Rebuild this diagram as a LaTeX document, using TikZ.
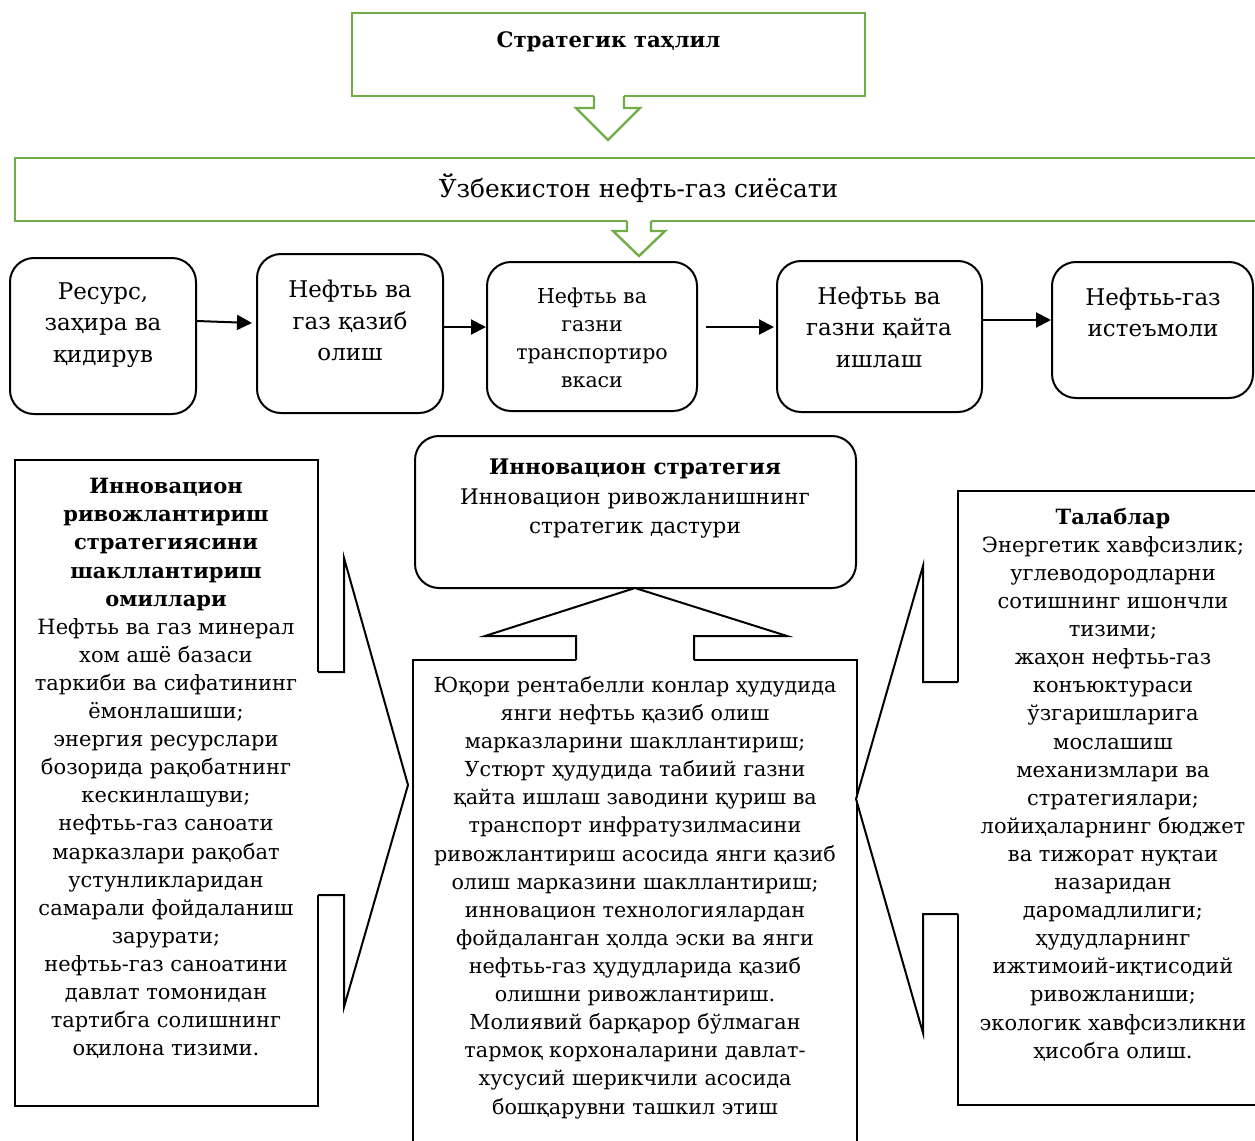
\documentclass[tikz,border=0pt]{standalone}
\usepackage{fontspec}
\setmainfont{DejaVu Serif}
\usetikzlibrary{arrows.meta,calc}
\definecolor{gr}{RGB}{112,173,71}
\begin{document}
\begin{tikzpicture}[x=1pt,y=-1pt,line join=miter,
 gbox/.style={draw=gr, line width=2.4pt, inner sep=0pt},
 bbox/.style={draw=black, line width=2pt, inner sep=0pt},
 rbox/.style={bbox, rounded corners=24pt},
 txt/.style={align=center, inner sep=0pt, font=\fontsize{21}{28.1}\selectfont},
 btxt/.style={align=center, inner sep=0pt, font=\fontsize{23}{31.5}\selectfont},
 arr/.style={draw, line width=2pt, -{Triangle[length=15pt,width=15pt]}},
 gline/.style={draw=gr, line width=2.4pt},
 bline/.style={draw=black, line width=2pt}]
\useasboundingbox (0,0) rectangle (1255,1140);
\clip (0,0) rectangle (1255,1140);

% green boxes
\node[gbox, minimum width=513pt, minimum height=83pt] (top) at (608.5,54.5) {};
\node[txt, font=\bfseries\fontsize{21.3}{26}\selectfont] (toptxt) at (608.5,42) {Стратегик таҳлил};
\node[gbox, minimum width=1252pt, minimum height=63pt] (pol) at (641,189.5) {};
\node[txt, font=\fontsize{24.8}{30}\selectfont] (poltxt) at (638.5,188) {Ўзбекистон нефть-газ сиёсати};

% green block arrows
\fill[white] (594,94) -- (594,108) -- (576,108) -- (608,140) -- (640,108) -- (624,108) -- (624,94) -- cycle;
\draw[gline] (594,96) -- (594,108) -- (576,108) -- (608,140) -- (640,108) -- (624,108) -- (624,96);
\fill[white] (627,219) -- (627,231) -- (613,231) -- (639,256) -- (665,231) -- (651,231) -- (651,219) -- cycle;
\draw[gline] (627,221) -- (627,231) -- (613,231) -- (639,256) -- (665,231) -- (651,231) -- (651,221);

% chain boxes
\node[rbox, minimum width=186pt, minimum height=156pt] (b1) at (103,336) {};
\node[rbox, minimum width=186pt, minimum height=159pt] (b2) at (350,333.5) {};
\node[rbox, minimum width=210pt, minimum height=149pt] (b3) at (592,336.5) {};
\node[rbox, minimum width=205pt, minimum height=151pt] (b4) at (879.5,336.5) {};
\node[rbox, minimum width=201pt, minimum height=136pt] (b5) at (1152.5,330) {};

\node[btxt] (t1) at (103,324.7) {Ресурс,\\заҳира ва\\қидирув};
\node[btxt] (t2) at (350,320.7) {Нефтьь ва\\газ қазиб\\олиш};
\node[txt, font=\fontsize{20.5}{28}\selectfont] (t3) at (592,338) {Нефтьь ва\\газни\\транспортиро\\вкаси};
\node[btxt] (t4) at (879,327.3) {Нефтьь ва\\газни қайта\\ишлаш};
\node[btxt] (t5) at (1153,312.5) {Нефтьь-газ\\истеъмоли};

\draw[arr] ($(b1.east)+(0,-15)$) -- ($(b2.west)+(-4,-10.5)$);
\draw[arr] ($(b2.east)+(0,-6.5)$) -- ($(b3.west)+(0,-9.5)$);
\draw[arr] ($(b3.east)+(8,-9.5)$) -- ($(b4.west)+(-2,-9.5)$);
\draw[arr] ($(b4.east)+(0,-16.5)$) -- ($(b5.west)+(0,-10)$);

% lower boxes
\node[bbox, minimum width=303pt, minimum height=646pt] (L) at (166.5,783) {};
\node[rbox, minimum width=441pt, minimum height=152pt] (C1) at (635.5,512) {};
\node[bbox, minimum width=444pt, minimum height=500pt] (C2) at (635,910) {};
\node[bbox, minimum width=310pt, minimum height=614pt] (R) at (1113,798) {};

% block arrows
\fill[white] (576,662) -- (576,636) -- (485,636) -- (635,589) -- (787,636) -- (694,636) -- (694,662) -- cycle;
\draw[bline] (576,660) -- (576,636) -- (485,636) -- (635,588) -- (787,636) -- (694,636) -- (694,660);
\fill[white] (316,672) -- (344,672) -- (344,558) -- (408,785) -- (344,1007) -- (344,895) -- (316,895) -- cycle;
\draw[bline] (318,672) -- (344,672) -- (344,558) -- (408,785) -- (344,1007) -- (344,895) -- (318,895);
\fill[white] (960,682) -- (923,682) -- (923,566) -- (857,799) -- (923,1033) -- (923,914) -- (960,914) -- cycle;
\draw[bline] (958,682) -- (923,682) -- (923,566) -- (856,799) -- (923,1033) -- (923,914) -- (958,914);

% texts
\node[txt] (Ltxt) at (166,768.5) {\textbf{Инновацион}\\\textbf{ривожлантириш}\\\textbf{стратегиясини}\\\textbf{шакллантириш}\\\textbf{омиллари}\\Нефтьь ва газ минерал\\хом ашё базаси\\таркиби ва сифатининг\\ёмонлашиши;\\энергия ресурслари\\бозорида рақобатнинг\\кескинлашуви;\\нефтьь-газ саноати\\марказлари рақобат\\устунликларидан\\самарали фойдаланиш\\зарурати;\\нефтьь-газ саноатини\\давлат томонидан\\тартибга солишнинг\\оқилона тизими.};
\node[txt, font=\fontsize{21.5}{29.5}\selectfont] (C1txt) at (635,498.7) {\textbf{Инновацион стратегия}\\Инновацион ривожланишнинг\\стратегик дастури};
\node[txt, font=\fontsize{20.7}{28.1}\selectfont] (C2txt) at (635,897.5) {Юқори рентабелли конлар ҳудудида\\янги нефтьь қазиб олиш\\марказларини шакллантириш;\\Устюрт ҳудудида табиий газни\\қайта ишлаш заводини қуриш ва\\транспорт инфратузилмасини\\ривожлантириш асосида янги қазиб\\олиш марказини шакллантириш;\\инновацион технологиялардан\\фойдаланган ҳолда эски ва янги\\нефтьь-газ ҳудудларида қазиб\\олишни ривожлантириш.\\Молиявий барқарор бўлмаган\\тармоқ корхоналарини давлат-\\хусусий шерикчили асосида\\бошқарувни ташкил этиш};
\node[txt] (Rtxt) at (1113,784.5) {\textbf{Талаблар}\\Энергетик хавфсизлик;\\углеводородларни\\сотишнинг ишончли\\тизими;\\жаҳон нефтьь-газ\\конъюктураси\\ўзгаришларига\\мослашиш\\механизмлари ва\\стратегиялари;\\лойиҳаларнинг бюджет\\ва тижорат нуқтаи\\назаридан\\даромадлилиги;\\ҳудудларнинг\\ижтимоий-иқтисодий\\ривожланиши;\\экологик хавфсизликни\\ҳисобга олиш.};
\end{tikzpicture}
\end{document}
